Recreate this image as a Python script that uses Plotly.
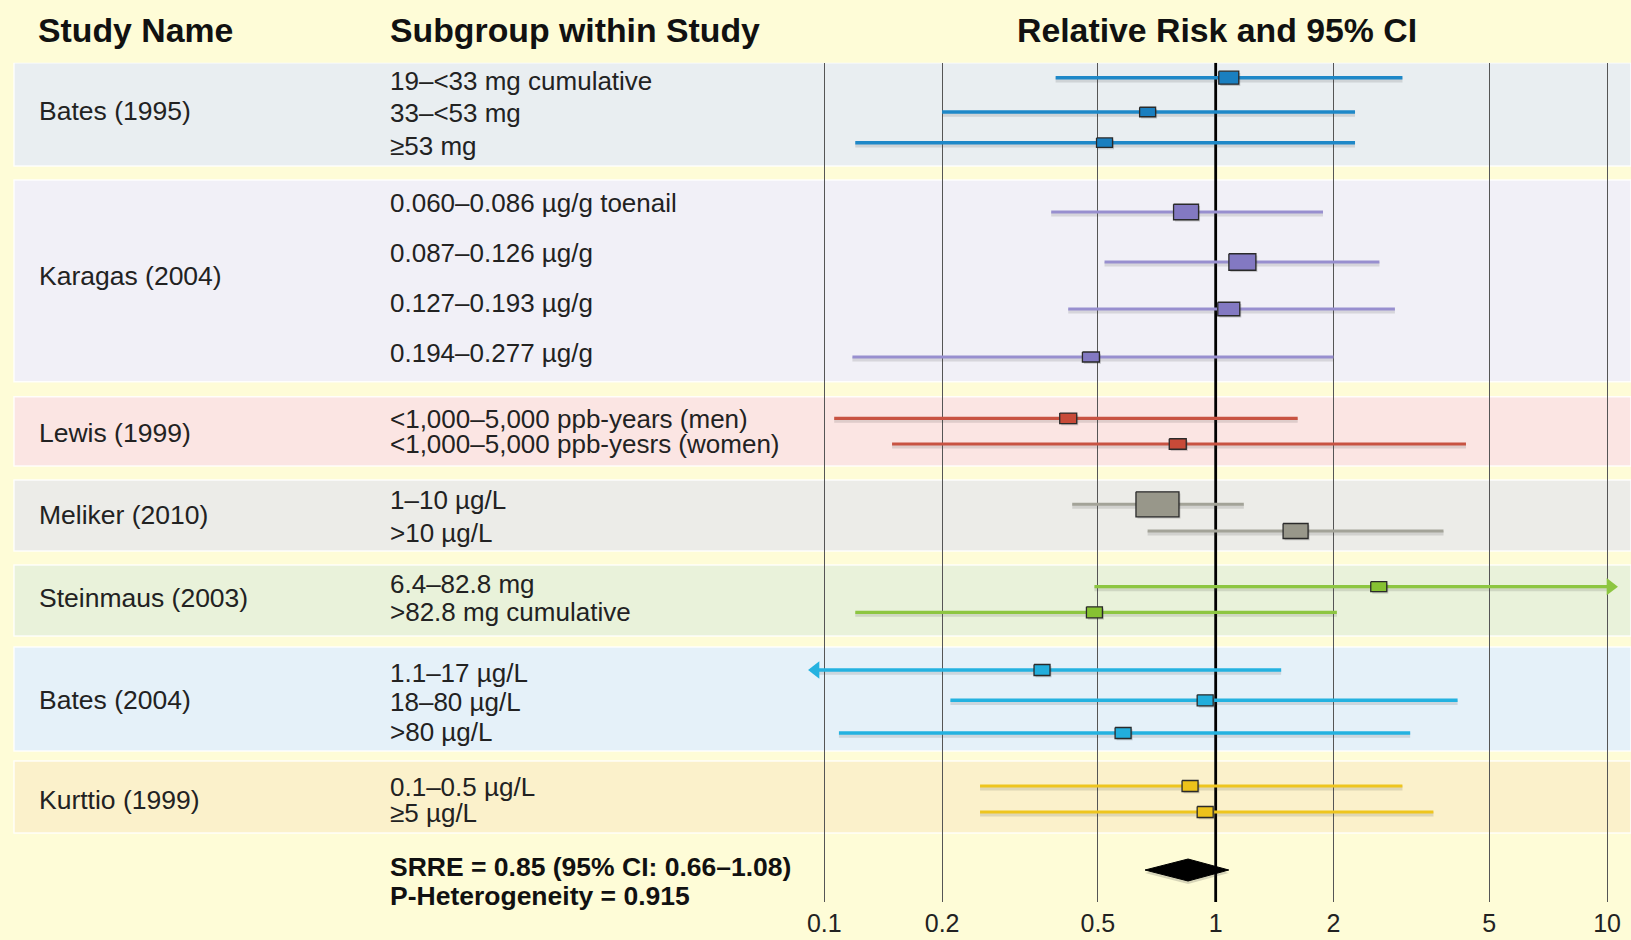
import plotly.graph_objects as go

# ---------------- DATA ----------------
studies = ["Bates (1995)", "Karagas (2004)", "Lewis (1999)", "Meliker (2010)",
           "Steinmaus (2003)", "Bates (2004)", "Kurttio (1999)"]

bates1995_sub = ["19–<33 mg cumulative", "33–<53 mg", "≥53 mg"]
bates1995_rr = [1.08, 0.67, 0.52]
bates1995_lo = [0.39, 0.20, 0.12]
bates1995_hi = [3.00, 2.27, 2.27]

karagas_sub = ["0.060–0.086 µg/g toenail", "0.087–0.126 µg/g", "0.127–0.193 µg/g", "0.194–0.277 µg/g"]
karagas_rr = [0.84, 1.17, 1.08, 0.48]
karagas_lo = [0.38, 0.52, 0.42, 0.118]
karagas_hi = [1.88, 2.62, 2.87, 2.00]

lewis_sub = ["<1,000–5,000 ppb-years (men)", "<1,000–5,000 ppb-yesrs (women)"]
lewis_rr = [0.42, 0.80]
lewis_lo = [0.106, 0.149]
lewis_hi = [1.62, 4.36]

meliker_sub = ["1–10 µg/L", ">10 µg/L"]
meliker_rr = [0.71, 1.60]
meliker_lo = [0.43, 0.67]
meliker_hi = [1.18, 3.82]

steinmaus_sub = ["6.4–82.8 mg", ">82.8 mg cumulative"]
steinmaus_rr = [2.61, 0.49]
steinmaus_lo = [0.49, 0.12]
steinmaus_hi = [10.2, 2.04]          # first CI runs off the axis (arrow)
steinmaus_arrow = ["right", ""]

bates2004_sub = ["1.1–17 µg/L", "18–80 µg/L", ">80 µg/L"]
bates2004_rr = [0.36, 0.94, 0.58]
bates2004_lo = [0.095, 0.21, 0.109]  # first CI runs off the axis (arrow)
bates2004_hi = [1.47, 4.15, 3.14]
bates2004_arrow = ["left", "", ""]

kurttio_sub = ["0.1–0.5 µg/L", "≥5 µg/L"]
kurttio_rr = [0.86, 0.94]
kurttio_lo = [0.25, 0.25]
kurttio_hi = [3.00, 3.60]

summary_rr = 0.85
summary_lo = 0.66
summary_hi = 1.08
summary_text = ["SRRE = 0.85 (95% CI: 0.66–1.08)", "P-Heterogeneity = 0.915"]

tick_vals = [0.1, 0.2, 0.5, 1, 2, 5, 10]
tick_text = ["0.1", "0.2", "0.5", "1", "2", "5", "10"]

# ---------------- LAYOUT / STYLE ----------------
W, H = 1631, 940
GRID_TOP, GRID_BOTTOM = 62.7, 902
BG = "#FEFCD7"
FONT = "Liberation Sans, Arial, Helvetica, sans-serif"
X_DOMAIN = [799 / W, 1]
X_RANGE = [-1.0646, 1.0611]
PX_PER_DEC = W * (X_DOMAIN[1] - X_DOMAIN[0]) / (X_RANGE[1] - X_RANGE[0])


def px_offset(v, dpx):
    """value shifted by dpx screen pixels along the log axis"""
    return v * 10 ** (dpx / PX_PER_DEC)


groups = [
    dict(sub=bates1995_sub, rr=bates1995_rr, lo=bates1995_lo, hi=bates1995_hi, arrow=None,
         rows=[77.7, 112, 142.7], labels=[81, 113, 146], name_y=110.5, band=(62.7, 166),
         band_col="#E9EEF1", line_col="#1E88C8", box_col="#1A7FC0", lw=3.6,
         box_w=[20, 16, 16], box_h=[13, 9.5, 9.5]),
    dict(sub=karagas_sub, rr=karagas_rr, lo=karagas_lo, hi=karagas_hi, arrow=None,
         rows=[212, 262, 309, 357], labels=[203, 253, 303, 353], name_y=276, band=(180, 381.7),
         band_col="#F1F0F7", line_col="#988FCF", box_col="#8379C2", lw=3.0,
         box_w=[25, 27, 22, 17], box_h=[15.5, 16.5, 13.5, 10]),
    dict(sub=lewis_sub, rr=lewis_rr, lo=lewis_lo, hi=lewis_hi, arrow=None,
         rows=[418.3, 444], labels=[419, 444], name_y=433, band=(396.7, 466),
         band_col="#FBE5E3", line_col="#C85342", box_col="#C84A38", lw=3.2,
         box_w=[17, 17], box_h=[10.5, 10.5]),
    dict(sub=meliker_sub, rr=meliker_rr, lo=meliker_lo, hi=meliker_hi, arrow=None,
         rows=[504.3, 531], labels=[500, 533], name_y=515, band=(480, 551),
         band_col="#ECECE8", line_col="#A3A398", box_col="#98978A", lw=3.0,
         box_w=[43, 25], box_h=[25, 15]),
    dict(sub=steinmaus_sub, rr=steinmaus_rr, lo=steinmaus_lo, hi=steinmaus_hi, arrow=steinmaus_arrow,
         rows=[586.7, 612.3], labels=[584, 612], name_y=598, band=(565, 636),
         band_col="#E9F2DA", line_col="#8DC641", box_col="#86C232", lw=3.2,
         box_w=[16, 16], box_h=[10, 11]),
    dict(sub=bates2004_sub, rr=bates2004_rr, lo=bates2004_lo, hi=bates2004_hi, arrow=bates2004_arrow,
         rows=[670, 700.3, 733], labels=[673, 702, 732], name_y=700, band=(647, 751),
         band_col="#E5F1F9", line_col="#24B2E0", box_col="#22AEDC", lw=3.4,
         box_w=[16, 16, 16], box_h=[11, 11, 11]),
    dict(sub=kurttio_sub, rr=kurttio_rr, lo=kurttio_lo, hi=kurttio_hi, arrow=None,
         rows=[786, 812], labels=[787, 813], name_y=800, band=(761, 833),
         band_col="#FBF1CB", line_col="#EEC51E", box_col="#EDC21A", lw=3.2,
         box_w=[16, 16], box_h=[11, 11]),
]

SUMMARY_Y = 870
SUMMARY_TEXT_Y = [867, 896]

fig = go.Figure()
shapes = []
annotations = []


def trace_line(x, y, color, width):
    fig.add_trace(go.Scatter(x=x, y=y, mode="lines", line=dict(color=color, width=width),
                             hoverinfo="skip", showlegend=False))


def trace_poly(x, y, fill, line_color, line_width):
    fig.add_trace(go.Scatter(x=x, y=y, mode="lines", fill="toself", fillcolor=fill,
                             line=dict(color=line_color, width=line_width),
                             hoverinfo="skip", showlegend=False))


# reference line at RR = 1
trace_line([1, 1], [GRID_TOP, GRID_BOTTOM], "#000000", 2.8)

for gi, g in enumerate(groups):
    b0, b1 = g["band"]
    shapes.append(dict(type="rect", xref="paper", yref="y", x0=14 / W, x1=1, y0=b0, y1=b1,
                       fillcolor=g["band_col"], line=dict(color="rgba(255,255,255,0.85)", width=1.5),
                       layer="below"))
    annotations.append(dict(text=studies[gi], xref="paper", yref="y", x=37 / W, y=g["name_y"],
                            xanchor="left", yanchor="middle", showarrow=False,
                            font=dict(family=FONT, size=26.5, color="#222222")))
    for ri, y in enumerate(g["rows"]):
        lo, hi, rr = g["lo"][ri], g["hi"][ri], g["rr"][ri]
        # soft shadow + CI line
        trace_line([lo, hi], [y + 2.2, y + 2.2], "rgba(60,60,60,0.15)", g["lw"] + 1.5)
        trace_line([lo, hi], [y, y], g["line_col"], g["lw"])
        arrow = g["arrow"][ri] if g["arrow"] else ""
        if arrow:
            ax = hi if arrow == "right" else lo
            fig.add_trace(go.Scatter(x=[ax], y=[y], mode="markers",
                                     marker=dict(symbol="triangle-" + arrow, size=15,
                                                 color=g["line_col"], line=dict(width=0)),
                                     hoverinfo="skip", showlegend=False))
        w, h = g["box_w"][ri], g["box_h"][ri]
        # box shadow
        sx0, sx1 = px_offset(rr, -w / 2 + 1.5), px_offset(rr, w / 2 + 1.5)
        trace_poly([sx0, sx1, sx1, sx0, sx0],
                   [y - h / 2 + 1.8, y - h / 2 + 1.8, y + h / 2 + 1.8, y + h / 2 + 1.8, y - h / 2 + 1.8],
                   "rgba(50,50,50,0.22)", "rgba(0,0,0,0)", 0)
        bx0, bx1 = px_offset(rr, -w / 2), px_offset(rr, w / 2)
        trace_poly([bx0, bx1, bx1, bx0, bx0],
                   [y - h / 2, y - h / 2, y + h / 2, y + h / 2, y - h / 2],
                   g["box_col"], "#2A2A2A", 1.3)
        annotations.append(dict(text=g["sub"][ri], xref="paper", yref="y", x=388 / W,
                                y=g["labels"][ri], xanchor="left", yanchor="middle", showarrow=False,
                                font=dict(family=FONT, size=26, color="#222222")))

# summary diamond
dh = 11
trace_poly([summary_lo, summary_rr, summary_hi, summary_rr, summary_lo],
           [SUMMARY_Y + 3, SUMMARY_Y + 3 - dh, SUMMARY_Y + 3, SUMMARY_Y + 3 + dh, SUMMARY_Y + 3],
           "rgba(60,60,60,0.2)", "rgba(0,0,0,0)", 0)
trace_poly([summary_lo, summary_rr, summary_hi, summary_rr, summary_lo],
           [SUMMARY_Y, SUMMARY_Y - dh, SUMMARY_Y, SUMMARY_Y + dh, SUMMARY_Y],
           "#000000", "#000000", 1)

for t, yy in zip(summary_text, SUMMARY_TEXT_Y):
    annotations.append(dict(text="<b>" + t + "</b>", xref="paper", yref="y", x=388 / W, y=yy,
                            xanchor="left", yanchor="middle", showarrow=False,
                            font=dict(family=FONT, size=26.5, color="#111111")))

# headers
for txt, x, anchor in [("Study Name", 36 / W, "left"),
                       ("Subgroup within Study", 388 / W, "left"),
                       ("Relative Risk and 95% CI", 1216.5 / W, "center")]:
    annotations.append(dict(text="<b>" + txt + "</b>", xref="paper", yref="paper", x=x,
                            y=1 - 30 / H, xanchor=anchor, yanchor="middle", showarrow=False,
                            font=dict(family=FONT, size=33.8, color="#111111")))

fig.update_layout(
    width=W, height=H, autosize=False,
    margin=dict(l=0, r=0, t=0, b=0),
    paper_bgcolor=BG, plot_bgcolor="rgba(0,0,0,0)",
    shapes=shapes, annotations=annotations, showlegend=False,
    xaxis=dict(type="log", domain=X_DOMAIN, range=X_RANGE,
               tickvals=tick_vals, ticktext=tick_text, showgrid=True,
               gridcolor="#555555", gridwidth=1.3, zeroline=False, showline=False,
               ticks="", tickfont=dict(family=FONT, size=25, color="#222222"),
               ticklabelstandoff=4, fixedrange=True),
    yaxis=dict(domain=[1 - GRID_BOTTOM / H, 1 - GRID_TOP / H], range=[GRID_BOTTOM, GRID_TOP],
               visible=False, fixedrange=True),
)

fig.write_html("out.html", config={"displayModeBar": False},
               post_script="document.body.style.margin='0px';document.body.style.padding='0px';"
                           "document.body.style.background='" + BG + "';")
